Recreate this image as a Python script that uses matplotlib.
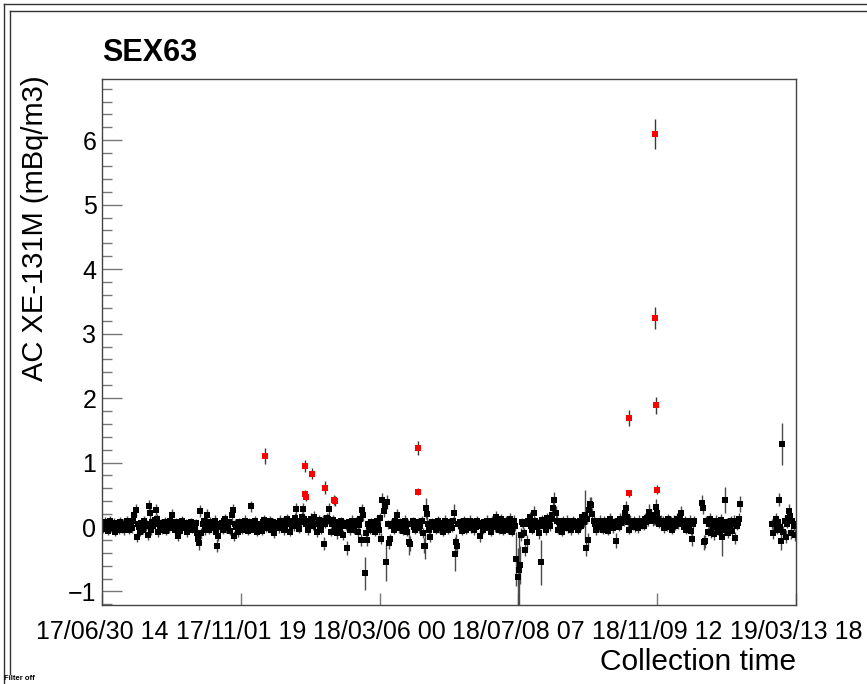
import numpy as np
import matplotlib
matplotlib.use("Agg")
import matplotlib.pyplot as plt
from matplotlib.lines import Line2D

plt.rcParams["font.family"] = ["Liberation Sans", "DejaVu Sans"]

# x axis: days since 17/06/30 14h, six evenly spaced time labels
x_span = 621.2
x_labels = ["17/06/30 14", "17/11/01 19", "18/03/06 00",
            "18/07/08 07", "18/11/09 12", "19/03/13 18"]

# black series, daily samples, values and errors in 1/100 mBq/m3
seg1_start = 0
seg1_val = [
    5, -3, 2, 7, 0, -6, 4, 9, -2, 3, 1, 6, -7, 4, 2, -4, 8, 1, -2, 5,
    -5, 2, 9, 4, -4, 1, 6, -2, 10, 18, 26, -15, 4, 0, -7, 6, 2, -4, 9, 1,
    4, -12, 33, 21, -5, 7, 2, 11, 27, 12, -8, 4, 0, 6, -4, 2, 7, -6, 1, 4,
    -2, 9, 5, 19, 1, -4, 7, 2, -14, 4, -6, 0, 9, 3, -2, 6, -8, 2, 0, 4,
    7, -4, 2, 0, 6, -10, -18, -25, 25, -10, 4, 9, -5, 2, 19, 0, -4, 8, 5, -2,
    2, 10, -7, -29, -14, 4, 0, 6, -4, 9, 12, -2, 4, 1, 7, -6, 18, 26, -14, 5,
    0, 4, -8, 7, 2, -4, 6, 0, 10, -2, 3, -6, 8, 32, 2, 0, -4, 9, 5, -7,
    2, 4, 0, -6, 7, 11, 4, -2, 6, 1, 9, -4, 2, 7, -9, 4, 0, 6, -2, 10,
    4, 1, 8, -5, 2, 9, 12, 4, -7, 6, 2, 10, 1, 14, 28, 5, -3, 9, 7, 15,
    28, 12, 10, 4, -5, 9, 2, 13, 7, 1, 16, 5, -8, 4, 11, 2, -4, 8, 10, -26,
    5, 14, 12, 28, 9, -7, 4, 11, 6, 0, -10, 7, 2, -5, 9, 4, -12, 6, 1, -32,
    4, 7, -5, 2, 10, 0, -4, 9, 5, -8, 3, 13, -20, 26, 18, -72, -10, -20, 5, 2,
    -4, 7, 0, 4, -7, 6, 10, 2, -5, 14, -18, 42, 25, 32, -55, 39, 4, -25, -19, 5,
    2, -4, 9, 0, 19, 6, -2, 7, 4, -6, 1, 10, 2, -7, 5, -23, -26, 4, 9, 0,
    -4, 6, 2, 7, -2, 1, 9, -9, -29, -29, 29, 20, 4, -5, -15, 7, 2, 0, 6, -4,
    4, 9, -2, 1, 6, -7, 2, 10, 0, 4, -4, 7, 5, -2, 9, 21, -42, -23, -30, 4,
    7, 1, -6, 4, 9, 2, -4, 6, 0, 10, -2, 4, 7, -5, 2, 0, 9, 4, -14, 6,
    2, -4, 7, 1, 6, 10, -2, 4, -7, 9, 2, 6, 0, 16, 4, -4, 7, 12, 2, -6,
    6, 0, 9, -4, 4, 13, 2, -7, 6, 10, 1, -50, -77, -66, -59, -12, 7, 4, -9, -35,
    -23, 10, 5, 15, 2, -4, 7, 22, 9, 0, 6, -10, 4, -55, 11, 2, 7, -5, 14, 4,
    9, 1, 13, 18, 30, 42, 22, 10, -4, 7, 2, 6, -7, 9, 4, 0, 10, -2, 6, 7,
    -5, 4, 9, 2, 0, 7, -4, 6, 10, 2, 15, 7, 19, -33, 13, -20, 26, 36, 34, 20,
    9, 4, -5, 7, 2, 0, 10, 6, -4, 9, 2, 7, 0, -6, 4, 12, 2, -2, 7, 5,
    -21, 4, 9, 0, 13, 6, 12, 10, 22, 29, 15, 7, -4, 10, 5, 2, 9, 0, 7, 4,
    -2, 10, 5, 4, 9, 1, 13, 7, 14, 10, 24, 18, 14, 9, 12, 11, 31, 21, 13, 5,
    10, 4, 9, -2, 7, 5, 0, 12, 4, 9, -4, 7, 10, 2, 6, 13, 4, 15, 21, 7,
    5, 0, 9, -4, 7, 2, 10, -6, -18, 4, 9,
]
seg1_err = [
    7, 6, 7, 8, 6, 7, 7, 8, 6, 7, 7, 8, 7, 6, 7, 7, 8, 6, 7, 7,
    7, 6, 8, 7, 7, 6, 7, 7, 8, 9, 10, 8, 7, 6, 7, 7, 6, 7, 8, 7,
    7, 8, 9, 8, 7, 7, 6, 8, 9, 8, 7, 7, 6, 7, 7, 6, 8, 7, 7, 6,
    7, 8, 7, 9, 6, 7, 7, 7, 8, 6, 7, 7, 8, 7, 6, 7, 7, 6, 7, 7,
    7, 6, 7, 7, 7, 8, 9, 10, 9, 8, 7, 7, 7, 6, 9, 7, 7, 7, 6, 7,
    7, 8, 7, 10, 8, 7, 6, 7, 7, 8, 8, 7, 6, 7, 7, 7, 9, 10, 8, 7,
    7, 6, 7, 7, 6, 7, 7, 6, 8, 7, 7, 7, 6, 9, 7, 6, 7, 8, 7, 7,
    6, 7, 7, 7, 7, 8, 7, 6, 7, 7, 8, 7, 6, 7, 8, 7, 6, 7, 7, 8,
    7, 6, 7, 7, 6, 8, 8, 7, 7, 7, 6, 8, 7, 8, 10, 7, 7, 7, 7, 8,
    10, 8, 7, 7, 7, 7, 6, 8, 7, 6, 9, 7, 7, 6, 8, 7, 7, 7, 8, 10,
    7, 8, 8, 10, 7, 7, 6, 8, 7, 7, 8, 7, 6, 7, 7, 7, 8, 7, 6, 11,
    7, 7, 7, 6, 8, 7, 7, 7, 7, 8, 6, 8, 9, 10, 9, 26, 8, 9, 7, 7,
    7, 7, 6, 7, 7, 7, 8, 7, 7, 8, 8, 11, 9, 10, 29, 11, 7, 9, 8, 7,
    7, 7, 7, 6, 9, 7, 7, 7, 6, 7, 7, 8, 6, 7, 7, 20, 12, 7, 7, 6,
    7, 7, 6, 7, 7, 6, 8, 8, 12, 20, 16, 11, 7, 7, 9, 7, 6, 7, 7, 7,
    7, 8, 7, 6, 7, 7, 6, 8, 7, 7, 7, 7, 7, 6, 7, 15, 27, 12, 11, 7,
    7, 6, 7, 7, 8, 6, 7, 7, 6, 8, 7, 7, 7, 7, 6, 7, 8, 7, 9, 7,
    6, 7, 7, 6, 7, 8, 7, 7, 7, 8, 6, 7, 7, 9, 7, 7, 7, 8, 6, 7,
    7, 6, 8, 7, 7, 8, 6, 7, 7, 8, 7, 42, 45, 55, 30, 10, 7, 7, 7, 10,
    11, 8, 7, 8, 6, 7, 7, 10, 7, 6, 7, 8, 7, 35, 8, 7, 7, 7, 8, 7,
    8, 7, 8, 10, 11, 12, 10, 8, 7, 7, 6, 7, 7, 8, 7, 6, 8, 7, 7, 7,
    7, 7, 8, 6, 7, 7, 7, 7, 8, 7, 9, 7, 39, 12, 8, 11, 10, 11, 12, 10,
    8, 7, 7, 7, 6, 7, 8, 7, 7, 8, 6, 7, 7, 7, 7, 9, 6, 7, 7, 7,
    12, 7, 8, 6, 8, 7, 9, 8, 11, 12, 10, 7, 7, 8, 7, 6, 8, 7, 7, 7,
    7, 8, 7, 7, 8, 6, 8, 7, 9, 8, 11, 10, 8, 7, 9, 8, 12, 11, 8, 7,
    8, 7, 8, 7, 7, 7, 6, 8, 7, 8, 7, 7, 8, 6, 7, 9, 7, 9, 11, 7,
    7, 6, 8, 7, 7, 6, 8, 7, 11, 7, 8,
]

seg2_start = 537
seg2_val = [38, 30, -24, -22, 9, -7, 4, 12, -9, 6, 0, -11, 7, 10, -5, 4, -8, 11, -15, 2,
            -4, 42, 7, -9, 5, 0, 9, -6, 4, 10, -17, 2, 6, 12, 36]
seg2_err = [11, 10, 11, 10, 8, 7, 7, 9, 8, 7, 7, 9, 7, 8, 7, 7, 8, 9, 30, 7,
            8, 20, 7, 8, 7, 7, 8, 7, 7, 8, 10, 7, 7, 9, 12]

seg3_start = 600
seg3_val = [5, -9, 4, 12, -4, 7, 42, 0, -21, 129, -7, 10, -15, 5, 14, 25, 17, -10, 9, 2, -12, 4]
seg3_err = [8, 10, 7, 9, 7, 8, 10, 7, 15, 33, 8, 8, 10, 7, 9, 11, 10, 8, 7, 8, 9, 7]

# red (flagged) samples
red_day = [146, 182, 182, 182.5, 188, 200, 208, 208.3, 283, 283,
           471.6, 472, 495, 495, 495.5, 497]
red_val = [1.10, 0.95, 0.51, 0.47, 0.83, 0.61, 0.42, 0.40, 1.23, 0.55,
           1.69, 0.52, 6.10, 3.24, 1.89, 0.58]
red_err = [0.12, 0.09, 0.07, 0.07, 0.09, 0.10, 0.08, 0.08, 0.11, 0.06,
           0.13, 0.06, 0.23, 0.17, 0.13, 0.07]

days, vals, errs = [], [], []
for start, v, e in [(seg1_start, seg1_val, seg1_err),
                    (seg2_start, seg2_val, seg2_err),
                    (seg3_start, seg3_val, seg3_err)]:
    days.append(start + np.arange(len(v)))
    vals.append(np.array(v) / 100.0)
    errs.append(np.array(e) / 100.0)
days = np.concatenate(days)
vals = np.concatenate(vals)
errs = np.concatenate(errs)

W, H = 867, 684
fig = plt.figure(figsize=(W / 100, H / 100), dpi=100)
ax = fig.add_axes([102 / W, 79 / H, 694 / W, 526 / H])

ax.errorbar(days, vals, yerr=errs, fmt="s", ms=4.3, mew=0, color="black",
            ecolor="#4a4a4a", elinewidth=1.0, capsize=2.5, capthick=1.0)
ax.errorbar(red_day, red_val, yerr=red_err, fmt="s", ms=4.3, mew=0, color="#ff0000",
            ecolor="#3a3a3a", elinewidth=1.0, capsize=2.5, capthick=1.0, zorder=3)

ax.set_xlim(0, x_span)
ax.set_ylim(-1.21, 6.95)
ax.set_xticks(np.linspace(0, x_span, len(x_labels)))
ax.set_xticklabels(x_labels)
ax.set_yticks(range(-1, 7))
ax.set_yticklabels(["\u22121", "0", "1", "2", "3", "4", "5", "6"])
ax.set_yticks(np.arange(-1.2, 7.0, 0.2), minor=True)

ax.tick_params(axis="x", which="major", direction="in", length=8.5, width=1,
               color="#777777", labelsize=18, pad=11, top=False)
ax.tick_params(axis="y", which="major", direction="in", length=14.5, width=1,
               color="#777777", labelsize=18, pad=4, right=False)
ax.tick_params(axis="y", which="minor", direction="in", length=7.2, width=1,
               color="#777777", right=False)
ax.tick_params(axis="x", which="minor", bottom=False, top=False)
for s in ax.spines.values():
    s.set_color("#444444")
    s.set_linewidth(1)

fig.text(102 / W, 1 - 53 / H, "SEX63", fontsize=22, fontweight="bold", va="center", ha="left")
fig.text(35 / W, 1 - 75 / H, "AC XE-131M (mBq/m3)", rotation=90, fontsize=21,
         ha="center", va="top")
fig.text(796 / W, 1 - 662 / H, "Collection time", fontsize=21.5, ha="right", va="center")
fig.text(4 / W, 1 - 678 / H, "Filter off", fontsize=5.5, fontweight="bold", ha="left", va="center")

# pad / canvas frames
frame = "#333333"
fig.add_artist(Line2D([4 / W, 1], [1 - 4 / H, 1 - 4 / H], color=frame, lw=1))
fig.add_artist(Line2D([4 / W, 4 / W], [1 - 4 / H, 0], color=frame, lw=1))
fig.add_artist(Line2D([10 / W, 1], [1 - 11 / H, 1 - 11 / H], color=frame, lw=1))
fig.add_artist(Line2D([10 / W, 10 / W], [1 - 11 / H, 1 - 674 / H], color=frame, lw=1))

fig.savefig("out.png", dpi=100)
